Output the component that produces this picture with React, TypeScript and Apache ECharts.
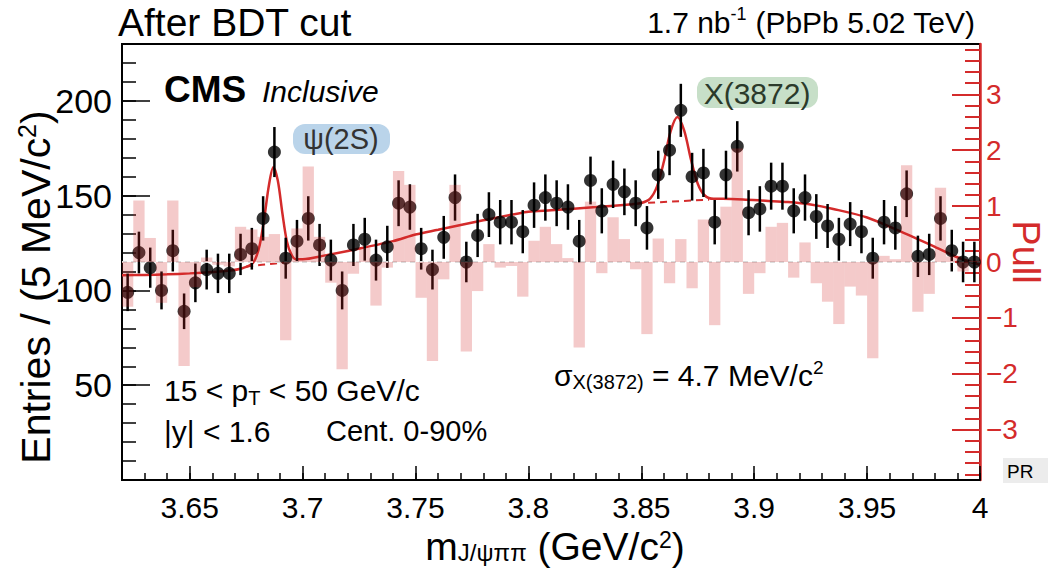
import React, { useEffect, useRef } from "react";
import * as echarts from "echarts";

// Histogram binning (5 MeV bins from 3.62 to 4.00 GeV)
const X_MIN = 3.62;
const X_MAX = 4.0;
const BIN_WIDTH = 0.005;

// Entries per bin
const counts = [
  99, 120, 112, 100, 121, 89, 104, 111, 109, 109,
  119, 122, 138, 173, 117, 126, 138, 124, 116, 100,
  124, 127, 116, 123, 146, 144, 122, 111, 128, 149,
  115, 129, 140, 136, 136, 131, 145, 149, 146, 144,
  126, 158, 142, 156, 152, 146, 133, 161, 174, 195,
  160, 162, 136, 161, 176, 141, 143, 155, 155, 142,
  149, 139, 134, 127, 135, 131, 117, 136, 133, 151,
  118, 119, 138, 121, 115, 115,
];

// Statistical error per bin
const errors = [
  9.9, 11.0, 10.6, 10.0, 11.0, 9.4, 10.2, 10.5, 10.4, 10.4,
  10.9, 11.0, 11.7, 13.2, 10.8, 11.2, 11.7, 11.1, 10.8, 10.0,
  11.1, 11.3, 10.8, 11.1, 12.1, 12.0, 11.0, 10.5, 11.3, 12.2,
  10.7, 11.4, 11.8, 11.7, 11.7, 11.4, 12.0, 12.2, 12.1, 12.0,
  11.2, 12.6, 11.9, 12.5, 12.3, 12.1, 11.5, 12.7, 13.2, 14.0,
  12.6, 12.7, 11.7, 12.7, 13.3, 11.9, 12.0, 12.4, 12.4, 11.9,
  12.2, 11.8, 11.6, 11.3, 11.6, 11.4, 10.8, 11.7, 11.5, 12.3,
  10.9, 10.9, 11.7, 11.0, 10.7, 10.7,
];

// Pull per bin
const pulls = [
  -0.8, 1.1, 0.43, -0.73, 1.1, -1.86, -0.45, 0.08, -0.05, -0.08,
  0.63, 0.58, 0.45, 0.5, -1.4, 0.6, 1.71, 0.45, -0.37, -1.92,
  -0.21, 0.25, -0.78, -0.1, 1.63, 1.38, -0.64, -1.77, -0.31, 1.38,
  -1.6, -0.52, 0.32, -0.1, -0.07, -0.62, 0.38, 0.63, 0.32, 0.07,
  -1.53, 1.08, -0.2, 0.8, 0.41, -0.13, -1.29, 0.42, -0.38, 0.41,
  -0.47, 0.76, -1.13, 0.99, 2.03, -0.57, -0.2, 0.63, 0.7, -0.28,
  0.35, -0.38, -0.71, -1.11, -0.44, -0.6, -1.72, 0.11, 0.05, 1.73,
  -0.89, -0.57, 1.33, 0.1, -0.17, 0.02,
];

// Total fit curve
const fitMass = [
  3.62, 3.63, 3.64, 3.65, 3.66, 3.668, 3.673, 3.677, 3.679, 3.681,
  3.683, 3.685, 3.687, 3.689, 3.691, 3.693, 3.695, 3.697, 3.7, 3.71,
  3.72, 3.74, 3.75, 3.76, 3.78, 3.8, 3.81, 3.83, 3.846, 3.85,
  3.854, 3.857, 3.86, 3.863, 3.866, 3.869, 3.872, 3.875, 3.878, 3.882,
  3.886, 3.895, 3.905, 3.915, 3.925, 3.935, 3.95, 3.965, 3.98, 3.99, 4.0,
];
const fitValue = [
  108, 108.2, 108.5, 109, 109.7, 110.5, 111.6, 113.5, 116.5, 124,
  138, 155, 165, 158, 141, 126, 119, 116.5, 116.5, 118.5,
  120.8, 126, 129.5, 132, 137, 141.5, 142.3, 144, 145.5, 146.1,
  148.6, 155, 168, 184, 191.5, 184.3, 169, 156.3, 150.2, 148.3,
  148.3, 148, 147.3, 146.6, 145.3, 143, 138.5, 131, 123, 117.5, 113.5,
];

// Background component under the peaks (dashed)
const psiBgMass = [3.675, 3.682, 3.688, 3.696];
const psiBgValue = [112.6, 113.5, 114.2, 115.4];
const xBgMass = [3.853, 3.86, 3.867, 3.874, 3.88];
const xBgValue = [146.2, 146.7, 147.1, 147.5, 147.9];

// Axis ticks
const xTickValues = [3.65, 3.7, 3.75, 3.8, 3.85, 3.9, 3.95, 4.0];
const xTickLabels = ["3.65", "3.7", "3.75", "3.8", "3.85", "3.9", "3.95", "4"];
const yTickValues = [50, 100, 150, 200];
const yTickLabels = ["50", "100", "150", "200"];
const pullTickValues = [-3, -2, -1, 0, 1, 2, 3];
const pullTickLabels = ["\u22123", "\u22122", "\u22121", "0", "1", "2", "3"];

const Y_MAX = 230;
const PULL_MIN = -3.9;
const PULL_MAX = 3.9;

const RED = "#d42b2b";
const FONT = "'Liberation Sans', Arial, Helvetica, sans-serif";

function range(start: number, stop: number, step: number): number[] {
  const out: number[] = [];
  const n = Math.round((stop - start) / step);
  for (let i = 0; i <= n; i++) out.push(+(start + i * step).toFixed(4));
  return out;
}

export default function App() {
  const ref = useRef<HTMLDivElement>(null);

  useEffect(() => {
    if (!ref.current) return;
    const chart = echarts.init(ref.current, undefined, { renderer: "svg" });

    const centers = counts.map((_, i) => +(X_MIN + BIN_WIDTH * (i + 0.5)).toFixed(4));
    const points = counts.map((c, i) => [centers[i], c]);
    const errData = counts.map((c, i) => [centers[i], c, errors[i]]);
    const pullData = pulls.map((p, i) => [centers[i], p]);
    const fitData = fitMass.map((m, i) => [m, fitValue[i]]);
    const psiBg = psiBgMass.map((m, i) => [m, psiBgValue[i]]);
    const xBg = xBgMass.map((m, i) => [m, xBgValue[i]]);

    const minorX = range(X_MIN, X_MAX, 0.01);
    const minorY = range(0, Y_MAX, 10);
    const minorPull = range(-3.8, 3.8, 0.2);

    const txt = (x: number, y: number, text: string, fontSize: number, extra: any = {}) => ({
      type: "text",
      x,
      y,
      style: { text, fontSize, fontFamily: FONT, fill: "#000", align: "left", verticalAlign: "middle", ...extra },
    });

    const option: any = {
      animation: false,
      backgroundColor: "#ffffff",
      grid: {
        left: 122,
        top: 44,
        width: 858,
        height: 436,
        show: true,
        borderColor: "#000",
        borderWidth: 2,
        backgroundColor: "transparent",
      },
      xAxis: [
        {
          type: "value",
          min: X_MIN,
          max: X_MAX,
          position: "bottom",
          axisLine: { show: true, onZero: false, lineStyle: { color: "#000", width: 2 } },
          axisTick: { show: true, inside: true, length: 7, customValues: minorX, lineStyle: { color: "#000", width: 1.5 } },
          axisLabel: { show: false },
          splitLine: { show: false },
        },
        {
          type: "value",
          min: X_MIN,
          max: X_MAX,
          position: "bottom",
          axisLine: { show: false, onZero: false },
          axisTick: { show: true, inside: true, length: 14, customValues: xTickValues, lineStyle: { color: "#000", width: 1.5 } },
          axisLabel: {
            show: true,
            customValues: xTickValues,
            margin: 12,
            fontSize: 30,
            fontFamily: FONT,
            color: "#000",
            formatter: (v: number) => {
              const i = xTickValues.findIndex((t) => Math.abs(t - v) < 1e-6);
              return i >= 0 ? xTickLabels[i] : "";
            },
          },
          splitLine: { show: false },
        },
      ],
      yAxis: [
        {
          type: "value",
          min: 0,
          max: Y_MAX,
          position: "left",
          axisLine: { show: true, onZero: false, lineStyle: { color: "#000", width: 2 } },
          axisTick: { show: true, inside: true, length: 14, customValues: minorY, lineStyle: { color: "#000", width: 1.5 } },
          axisLabel: { show: false },
          splitLine: { show: false },
        },
        {
          type: "value",
          min: 0,
          max: Y_MAX,
          position: "left",
          axisLine: { show: false, onZero: false },
          axisTick: { show: true, inside: true, length: 28, customValues: [0, ...yTickValues], lineStyle: { color: "#000", width: 1.5 } },
          axisLabel: {
            show: true,
            customValues: yTickValues,
            margin: 10,
            fontSize: 34,
            fontFamily: FONT,
            color: "#000",
            formatter: (v: number) => {
              const i = yTickValues.indexOf(Math.round(v));
              return i >= 0 ? yTickLabels[i] : "";
            },
          },
          splitLine: { show: false },
        },
        {
          type: "value",
          min: PULL_MIN,
          max: PULL_MAX,
          position: "right",
          axisLine: { show: true, onZero: false, lineStyle: { color: RED, width: 2.5 } },
          axisTick: { show: true, inside: true, length: 28, customValues: pullTickValues, lineStyle: { color: RED, width: 2 } },
          axisLabel: {
            show: true,
            customValues: pullTickValues,
            margin: 6,
            fontSize: 28,
            fontFamily: FONT,
            color: RED,
            formatter: (v: number) => {
              const i = pullTickValues.indexOf(Math.round(v));
              return i >= 0 ? pullTickLabels[i] : "";
            },
          },
          splitLine: { show: false },
        },
        {
          type: "value",
          min: PULL_MIN,
          max: PULL_MAX,
          position: "right",
          axisLine: { show: false, onZero: false },
          axisTick: { show: true, inside: true, length: 15, customValues: minorPull, lineStyle: { color: RED, width: 2 } },
          axisLabel: { show: false },
          splitLine: { show: false },
        },
      ],
      series: [
        {
          name: "fit",
          type: "line",
          xAxisIndex: 0,
          yAxisIndex: 0,
          data: fitData,
          showSymbol: false,
          smooth: 0.3,
          lineStyle: { color: RED, width: 2.5 },
          z: 3,
        },
        {
          name: "psiBg",
          type: "line",
          xAxisIndex: 0,
          yAxisIndex: 0,
          data: psiBg,
          showSymbol: false,
          lineStyle: { color: RED, width: 2, type: [7, 5] },
          z: 3,
        },
        {
          name: "xBg",
          type: "line",
          xAxisIndex: 0,
          yAxisIndex: 0,
          data: xBg,
          showSymbol: false,
          lineStyle: { color: RED, width: 2, type: [7, 5] },
          z: 3,
        },
        {
          name: "errors",
          type: "custom",
          xAxisIndex: 0,
          yAxisIndex: 0,
          data: errData,
          renderItem: (params: any, api: any) => {
            const x = api.value(0);
            const y = api.value(1);
            const e = api.value(2);
            const top = api.coord([x, y + e]);
            const bot = api.coord([x, y - e]);
            return {
              type: "line",
              shape: { x1: top[0], y1: top[1], x2: bot[0], y2: bot[1] },
              style: { stroke: "#000", lineWidth: 2.5 },
            };
          },
          z: 4,
        },
        {
          name: "data",
          type: "scatter",
          xAxisIndex: 0,
          yAxisIndex: 0,
          data: points,
          symbol: "circle",
          symbolSize: 13,
          itemStyle: { color: "#000" },
          z: 5,
        },
        {
          name: "pull",
          type: "bar",
          xAxisIndex: 0,
          yAxisIndex: 2,
          data: pullData,
          barWidth: 11.29,
          itemStyle: { color: "rgba(212, 45, 45, 0.25)" },
          z: 8,
          markLine: {
            silent: true,
            symbol: "none",
            label: { show: false },
            lineStyle: { color: "#dcdcdc", width: 2, type: [5, 4] },
            data: [{ yAxis: 0 }],
          },
        },
      ],
      graphic: [
        txt(118, 22, "After BDT cut", 39),
        {
          type: "text",
          x: 975,
          y: 22,
          style: {
            text: "1.7 nb{sup|-1} (PbPb 5.02 TeV)",
            fontSize: 30,
            lineHeight: 34,
            fontFamily: FONT,
            fill: "#000",
            align: "right",
            verticalAlign: "middle",
            rich: {
              sup: { fontSize: 18, lineHeight: 22, verticalAlign: "top", fontFamily: FONT, fill: "#000" },
            },
          },
        },
        txt(164, 89, "CMS", 37, { fontWeight: "bold" }),
        txt(262, 91, "Inclusive", 30, { fontStyle: "italic" }),
        {
          type: "rect",
          shape: { x: 293, y: 124, width: 97, height: 30, r: 12 },
          style: { fill: "#bad4ea" },
        },
        txt(341, 139, "\u03c8(2S)", 29, { fill: "#333", align: "center" }),
        {
          type: "rect",
          shape: { x: 697, y: 77, width: 121, height: 31, r: 12 },
          style: { fill: "#c7dfc8" },
        },
        txt(757, 93, "X(3872)", 30, { fill: "#2b3a2b", align: "center" }),
        {
          type: "text",
          x: 164,
          y: 390,
          style: {
            text: "15 < p{sub|T} < 50 GeV/c",
            fontSize: 30,
            lineHeight: 36,
            fontFamily: FONT,
            fill: "#000",
            align: "left",
            verticalAlign: "middle",
            rich: { sub: { fontSize: 20, lineHeight: 14, verticalAlign: "bottom", fontFamily: FONT, fill: "#000" } },
          },
        },
        txt(164, 431, "|y| < 1.6", 30),
        txt(326, 431, "Cent. 0-90%", 29),
        {
          type: "text",
          x: 554,
          y: 375,
          style: {
            text: "\u03c3{sub|X(3872)} = 4.7 MeV/c{sup|2}",
            fontSize: 30,
            lineHeight: 34,
            fontFamily: FONT,
            fill: "#000",
            align: "left",
            verticalAlign: "middle",
            rich: {
              sub: { fontSize: 20, lineHeight: 14, verticalAlign: "bottom", fontFamily: FONT, fill: "#000" },
              sup: { fontSize: 19, lineHeight: 20, verticalAlign: "top", fontFamily: FONT, fill: "#000" },
            },
          },
        },
        {
          type: "text",
          x: 36,
          y: 287,
          rotation: Math.PI / 2,
          style: {
            text: "Entries / (5 MeV/c{sup|2})",
            fontSize: 41,
            lineHeight: 44,
            fontFamily: FONT,
            fill: "#000",
            align: "center",
            verticalAlign: "middle",
            rich: { sup: { fontSize: 25, lineHeight: 26, verticalAlign: "top", fontFamily: FONT, fill: "#000" } },
          },
        },
        {
          type: "text",
          x: 555,
          y: 546,
          style: {
            text: "m{sub|J/\u03c8\u03c0\u03c0} (GeV/c{sup|2})",
            fontSize: 39,
            lineHeight: 36,
            fontFamily: FONT,
            fill: "#000",
            align: "center",
            verticalAlign: "middle",
            rich: {
              sub: { fontSize: 24, lineHeight: 12, verticalAlign: "bottom", fontFamily: FONT, fill: "#000" },
              sup: { fontSize: 23, lineHeight: 18, verticalAlign: "top", fontFamily: FONT, fill: "#000" },
            },
          },
        },
        {
          type: "text",
          x: 1026,
          y: 252,
          rotation: -Math.PI / 2,
          style: { text: "Pull", fontSize: 38, fontFamily: FONT, fill: RED, align: "center", verticalAlign: "middle" },
        },
        {
          type: "rect",
          shape: { x: 1003, y: 458, width: 45, height: 25 },
          style: { fill: "#ececec" },
        },
        txt(1007, 471, "PR", 19),
      ],
    };

    chart.setOption(option);
    return () => chart.dispose();
  }, []);

  return (
    <div
      ref={ref}
      style={{ position: "fixed", left: 0, top: 0, width: 1048, height: 573, background: "#fff" }}
    />
  );
}
